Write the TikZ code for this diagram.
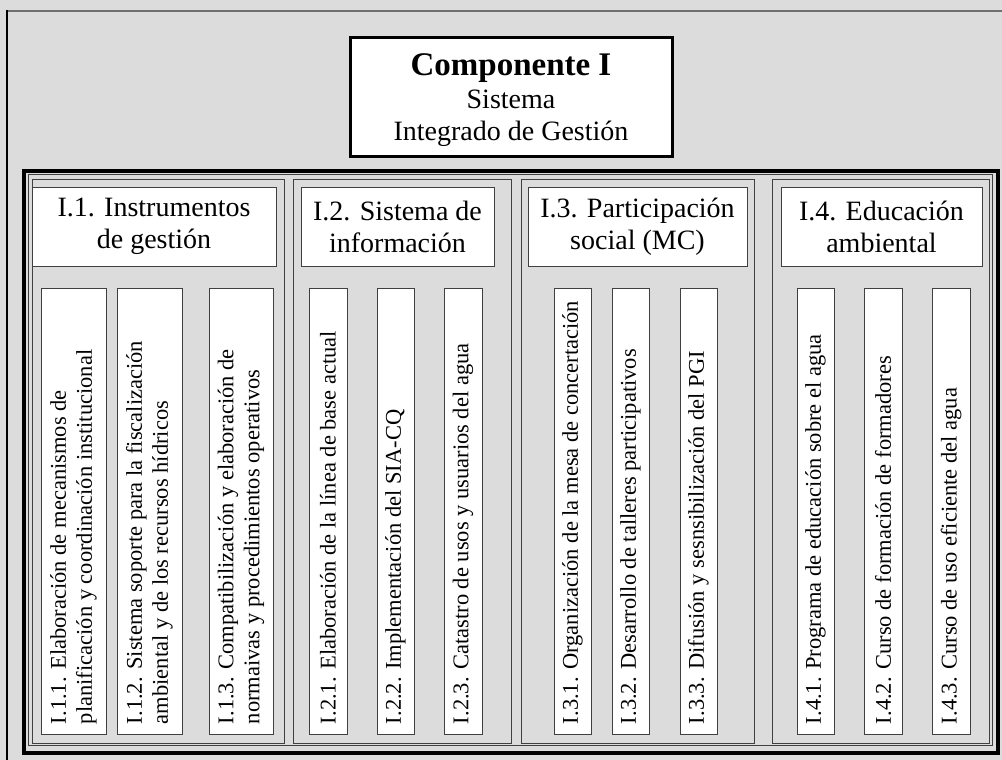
\documentclass[tikz,border=0pt]{standalone}
\usepackage{fontspec}
\setmainfont{Liberation Serif}
\definecolor{bggray}{HTML}{DCDCDC}
\definecolor{framegray}{HTML}{404040}
\definecolor{topgray}{HTML}{707070}
\begin{document}
\begin{tikzpicture}[x=1pt,y=-1pt,
  hdr/.style={draw=framegray, line width=1pt, fill=white, align=center, inner sep=0pt,
    font=\fontsize{28}{32}\selectfont},
  sub/.style={draw=framegray, line width=1pt, fill=white, rotate=90, inner xsep=10pt, inner ysep=0pt,
    text width=426pt, minimum width=446pt, align=flush left, font=\fontsize{22.5}{26}\selectfont},
  colframe/.style={draw=framegray, line width=1pt}
]
\useasboundingbox (0,0) rectangle (1002,760);
\fill[bggray] (0,0) rectangle (1002,760);
\draw[topgray, line width=2pt] (7,11) -- (1002,11);
\draw[black, line width=1.5pt] (7,10) -- (7,760);

% top box
\node[draw=black, line width=3pt, fill=white, minimum width=322pt, minimum height=118pt] (comp) at (511,97) {};
\node[align=center, inner sep=0pt, font=\fontsize{28}{32}\selectfont] (comptext) at (511,100.5)
  {{\fontsize{33}{34}\selectfont\bfseries Componente I}\\[1pt]Sistema\\Integrado de Gestión};

% outer frames
\draw[black, line width=4pt] (23.5,170.5) rectangle (997.5,752.5);
\draw[framegray, line width=1pt] (28,174) rectangle (992,745);

% column frames
\draw[colframe] (32,179) rectangle (284,743);
\draw[colframe] (293,179) rectangle (511,743);
\draw[colframe] (521,179) rectangle (754,743);
\draw[colframe] (772,179) rectangle (989,743);

% headers
\node[hdr, minimum width=244pt, minimum height=79pt] (h1) at (154,226.5) {I.1. Instrumentos\\de gestión};
\node[hdr, minimum width=193pt, minimum height=79pt] (h2) at (397.5,226.5) {I.2. Sistema de\\información};
\node[hdr, minimum width=219pt, minimum height=79pt] (h3) at (637.5,226.5) {I.3. Participación\\social (MC)};
\node[hdr, minimum width=201pt, minimum height=79pt] (h4) at (881.5,226.5) {I.4. Educación\\ambiental};

% sub boxes column 1
\node[sub, minimum height=65pt] (s11) at (73.5,511) {I.1.1. Elaboración de mecanismos de\\planificación y coordinación institucional};
\node[sub, minimum height=65pt] (s12) at (149.5,511) {I.1.2. Sistema soporte para la fiscalización\\ambiental y de los recursos hídricos};
\node[sub, minimum height=64pt] (s13) at (241,511) {I.1.3. Compatibilización y elaboración de\\normaivas y procedimientos operativos};
% column 2
\node[sub, minimum height=38pt] (s21) at (328,511) {I.2.1. Elaboración de la línea de base actual};
\node[sub, minimum height=37pt] (s22) at (395.5,511) {I.2.2. Implementación del SIA-CQ};
\node[sub, minimum height=38pt] (s23) at (463,511) {I.2.3. Catastro de usos y usuarios del agua};
% column 3
\node[sub, minimum height=37pt] (s31) at (572.5,511) {I.3.1. Organización de la mesa de concertación};
\node[sub, minimum height=37pt] (s32) at (630.5,511) {I.3.2. Desarrollo de talleres participativos};
\node[sub, minimum height=37pt] (s33) at (698.5,511) {I.3.3. Difusión y sesnsibilización del PGI};
% column 4
\node[sub, minimum height=37pt] (s41) at (815.5,511) {I.4.1. Programa de educación sobre el agua};
\node[sub, minimum height=38pt] (s42) at (883,511) {I.4.2. Curso de formación de formadores};
\node[sub, minimum height=38pt] (s43) at (951,511) {I.4.3. Curso de uso eficiente del agua};
\end{tikzpicture}
\end{document}
